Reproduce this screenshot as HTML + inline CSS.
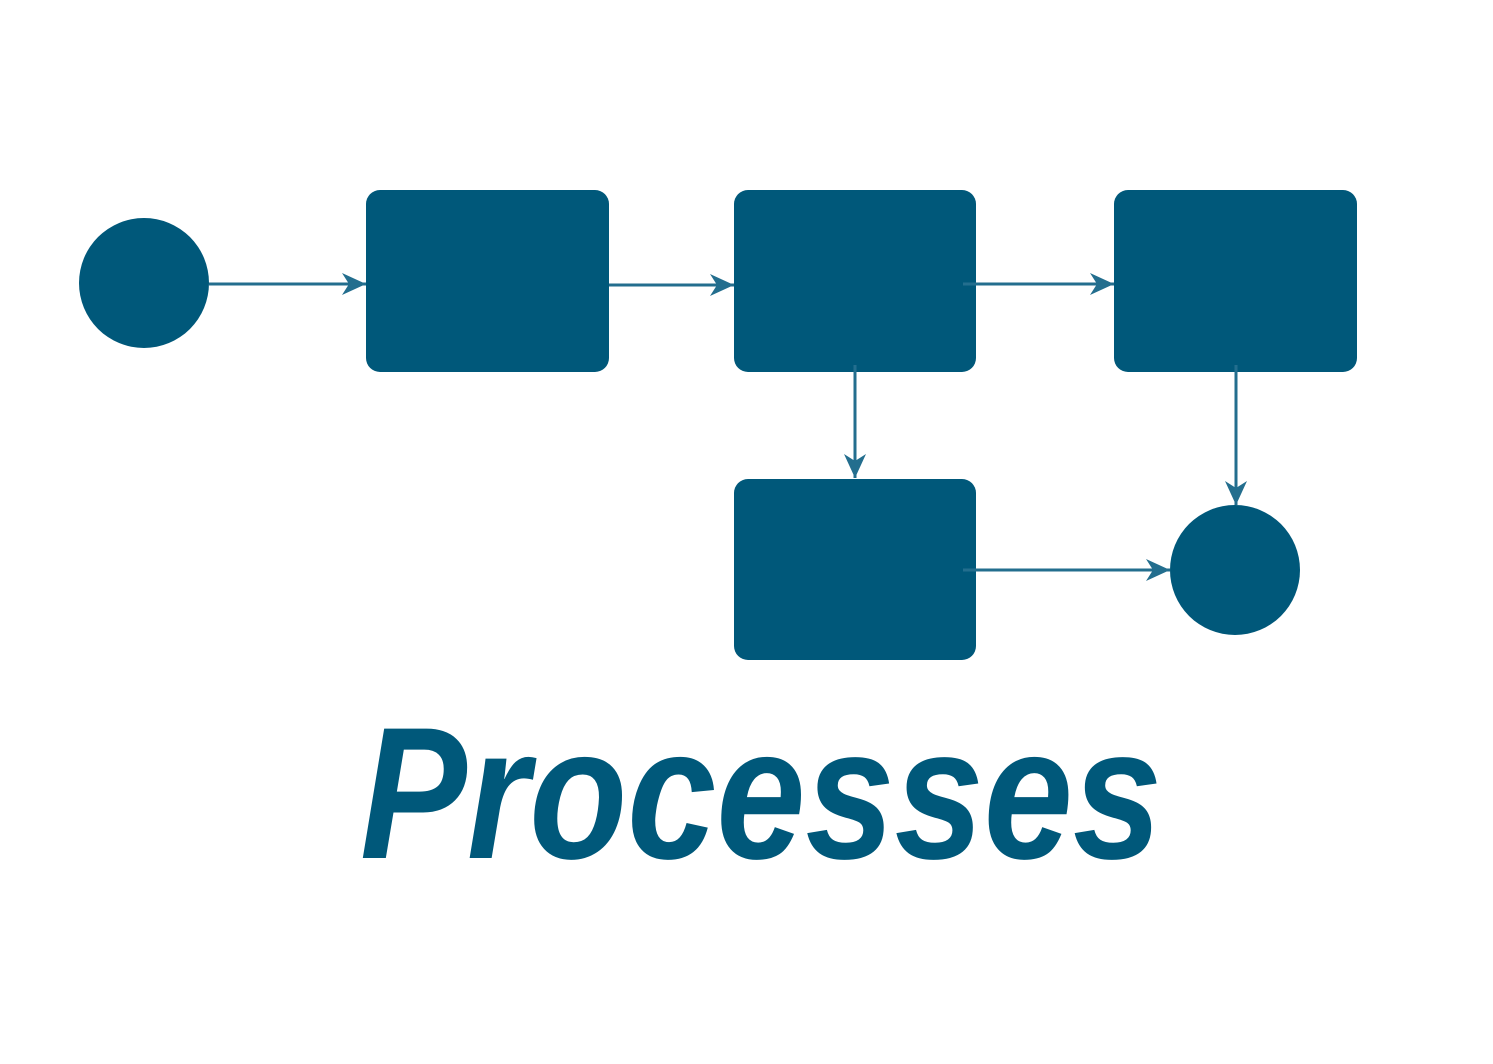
<!DOCTYPE html>
<html><head><style>html,body{margin:0;padding:0;background:#fff}</style></head>
<body>
<svg width="1493" height="1059" viewBox="0 0 1493 1059" xmlns="http://www.w3.org/2000/svg">
<defs>
<marker id="a" markerUnits="userSpaceOnUse" markerWidth="26" markerHeight="24" refX="24" refY="12" orient="auto">
<path d="M0,1 L24,12 L0,23 L7,12 Z" fill="#236E8E"/>
</marker>
</defs>
<g fill="#00587A">
<circle cx="144" cy="283" r="65"/>
<rect x="366" y="190" width="243" height="182" rx="14"/>
<rect x="734" y="190" width="242" height="182" rx="14"/>
<rect x="1114" y="190" width="243" height="182" rx="14"/>
<rect x="734" y="479" width="242" height="181" rx="14"/>
<circle cx="1235" cy="570" r="65"/>
</g>
<g stroke="#236E8E" stroke-width="3" fill="none" marker-end="url(#a)">
<line x1="209" y1="284" x2="366" y2="284"/>
<line x1="609" y1="285" x2="734" y2="285"/>
<line x1="963" y1="284" x2="1114" y2="284"/>
<line x1="855" y1="365" x2="855" y2="478"/>
<line x1="1236" y1="365" x2="1236" y2="505"/>
<line x1="963" y1="570" x2="1170" y2="570"/>
</g>
<text x="360" y="858" font-family="Liberation Sans, sans-serif" font-weight="bold" font-style="italic" font-size="188" fill="#00587A" textLength="802" lengthAdjust="spacingAndGlyphs">Processes</text>
</svg>
</body></html>
